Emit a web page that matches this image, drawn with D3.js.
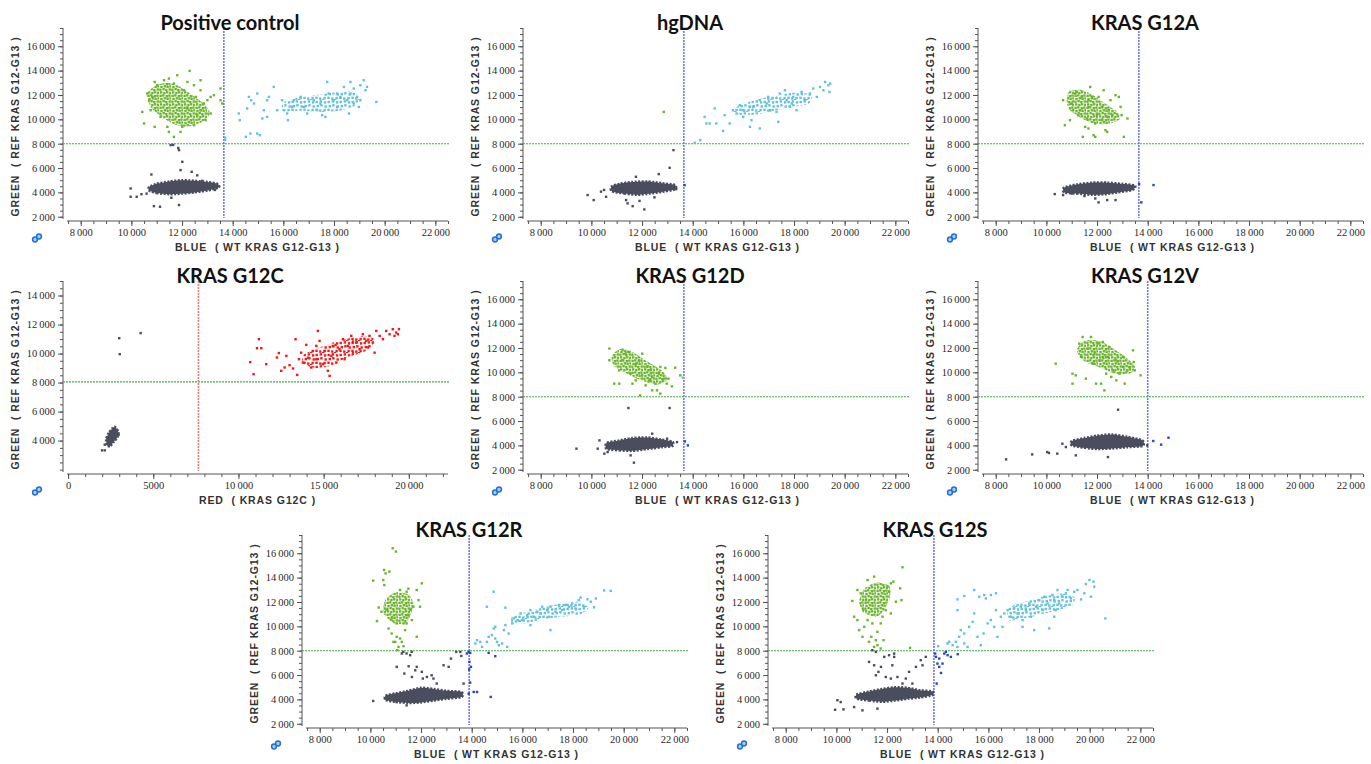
<!DOCTYPE html>
<html>
<head>
<meta charset="utf-8">
<script src="https://cdn.jsdelivr.net/npm/d3@7"></script>
<style>
body{margin:0;background:#fff;}
svg{display:block;}
.tick text{font-family:"Liberation Serif","DejaVu Serif",serif;font-size:10.5px;fill:#2a2a2a;}
.ptitle{font-family:Lato,"Open Sans",sans-serif;font-weight:bold;font-size:20px;fill:#111;}
.atitle{font-family:"Liberation Sans",Arial,sans-serif;font-weight:bold;font-size:10.5px;letter-spacing:0.9px;fill:#333;white-space:pre;}
</style>
</head>
<body>
<svg id="chart" width="1371" height="764"></svg>
<script>
// ---- data (fluorescence amplitudes) ----

// Positive control
var pcGrayCore = [[10700,4150],[11000,3950],[11500,3850],[12000,3900],[12500,4000],[13000,4150],[13450,4400],[13400,4700],[13000,4850],[12500,4950],[12000,5000],[11500,4900],[11000,4700],[10700,4450]];
var pcGray = [[9970,4320],[9970,3640],[10210,3640],[10400,3850],[10790,5470],[10890,2870],[11130,2820],[11880,2960],[11940,5830],[12010,6510],[12380,5690],[11580,3560],[11550,7880],[11650,7900],[11880,7470],[11850,7650],[12600,5400],[10600,3900],[13300,4200],[12800,4950]];
var pcGreenCore = [[10600,12000],[10900,12700],[11400,13000],[11900,12700],[12400,12000],[12900,11200],[13100,10500],[12800,9800],[12200,9400],[11700,9600],[11200,10200],[10800,10900]];
var pcGreen = [[10430,10610],[10500,9660],[10830,11840],[10920,13070],[11480,13350],[11810,13620],[12300,13980],[12210,13070],[12730,12390],[13130,11840],[13000,11570],[13260,11980],[13520,12530],[13520,11570],[13130,10480],[12930,9930],[11940,8970],[11480,8970],[11680,8560],[12010,9380],[12470,9520],[10920,9380],[10760,10750],[11150,10200],[12730,10750],[12210,10890],[11020,12800],[11290,13210],[11680,12940],[12080,12390],[12540,11840],[12860,11300],[11420,9380],[12600,10340],[10700,11570],[10630,12120],[12470,12800],[12730,13210],[13590,11300]];
var pcCyanCore = [[16000,10700],[16800,10700],[17500,10600],[18200,10700],[18800,11100],[19000,11800],[18700,12300],[18000,12200],[17300,12000],[16600,11800],[16000,11400]];
var pcCyan = [[13700,8500],[13700,8300],[14240,10480],[14280,9930],[14570,10890],[14730,11570],[14840,11300],[14970,12120],[14640,11840],[14520,8560],[14700,8830],[14970,8830],[15070,8700],[15230,10750],[15360,11570],[15430,11840],[15620,12660],[15170,10070],[15360,10200],[15760,10750],[15950,11570],[16020,10750],[16150,10480],[16180,9930],[16350,11020],[16410,11570],[16680,11840],[16810,11020],[16940,10480],[17200,11570],[17330,10750],[17460,11300],[17660,10200],[17730,13070],[17790,12120],[17990,11570],[18120,11020],[18250,11840],[18390,12660],[18520,11570],[18650,12120],[18650,13070],[18780,12530],[18910,11840],[18980,11020],[19040,12800],[19170,13210],[19240,12390],[19300,12660],[19670,11430],[19040,11570],[18780,11300],[18590,10480],[17530,10340],[18120,12120]];

// hgDNA
var hgGrayCore = [[10800,4100],[11300,3900],[11800,3800],[12300,3900],[12800,4050],[13300,4250],[13300,4600],[12800,4750],[12200,4900],[11600,4850],[11100,4700],[10800,4500]];
var hgGray = [[9850,3780],[10090,3370],[10380,4060],[10580,3640],[11630,2870],[12090,2600],[11760,5280],[12660,5500],[13090,6020],[13240,7470],[13350,4270],[12490,3590],[11370,3370],[10970,4460],[11430,3100],[10500,4200],[11900,3300]];
var hgBlue = [[13680,4600]];
var hgGreen = [[12860,10610]];
var hgCyanCore = [[15800,10400],[16500,10400],[17200,10700],[17900,11000],[18600,11300],[18700,12000],[18100,12200],[17400,12000],[16700,11700],[16000,11300],[15600,10800]];
var hgCyan = [[14080,8070],[14300,8290],[14470,10200],[14540,9660],[14670,9660],[14930,9660],[14870,10890],[15260,10340],[15200,9050],[15460,9660],[15590,10750],[15730,10480],[15860,11160],[15990,10200],[16260,9380],[16320,9930],[16390,11020],[16650,11570],[16920,11300],[17050,10750],[17310,10610],[17440,12120],[17640,12390],[17710,11570],[17910,11300],[17970,11840],[18300,12250],[18430,11570],[18630,12120],[18760,12530],[18900,11840],[19030,12660],[19160,12390],[19230,13070],[19360,12800],[19400,12250],[17380,9790],[16650,9250],[17840,11020],[18100,10750],[16980,11840],[16260,11020],[15990,10750],[19430,12940]];

// KRAS G12A
var g12aGrayCore = [[10700,4000],[11200,3900],[11800,3800],[12300,3850],[12800,4000],[13400,4200],[13500,4550],[13000,4700],[12400,4800],[11800,4800],[11200,4650],[10700,4400]];
var g12aGray = [[10330,3860],[10660,3780],[10860,4050],[12060,3180],[12400,3370],[12730,3370],[11930,3500],[11000,3900],[11500,3700]];
var g12aBlue = [[13660,4680],[14230,4600],[13750,3180]];
var g12aGreenCore = [[10800,11500],[10900,12300],[11400,12400],[11900,11900],[12400,11200],[12800,10600],[12900,10000],[12400,9600],[11800,9700],[11300,10200],[10900,10800]];
var g12aGreen = [[10660,11570],[10730,9520],[10930,9930],[11000,11300],[11130,12120],[11200,12250],[11330,10750],[11400,11840],[11530,9380],[11440,8560],[11660,9250],[11730,12660],[11800,11840],[11860,8700],[11930,8560],[12000,10340],[12060,11840],[12260,12390],[12200,11020],[12330,9110],[12400,8970],[12460,10750],[12530,11570],[12600,10340],[12730,11980],[12860,11840],[12930,11020],[12970,10340],[13060,8560],[13200,10070],[12400,10200],[11930,9660],[11600,10070],[11260,10340],[11060,10750],[11660,11570],[11660,11020],[12200,9930]];

// KRAS G12C (red channel on x)
var g12cGrayCore = [[2300,3650],[2500,3650],[2700,3950],[2900,4250],[2950,4600],[2750,4950],[2600,4850],[2400,4550],[2230,4100]];
var g12cGray = [[1990,3330],[2150,3330],[2150,3720],[2970,4410],[3000,11060],[3030,9960],[4260,11410]];
var g12cRedCore = [[13800,9300],[14600,9000],[15500,9200],[16300,9700],[17100,10000],[17800,10400],[17900,11100],[17200,11200],[16300,11000],[15400,10700],[14500,10300],[13800,9900]];
var g12cRed = [[10690,9410],[10890,8580],[11090,10370],[11200,10990],[11340,10370],[11630,9270],[12260,9730],[12370,10030],[12510,8810],[12710,9040],[12810,9840],[13000,9200],[13200,8970],[13350,10990],[13450,8530],[13550,9610],[13680,10060],[13780,9380],[13980,10600],[14080,9720],[14270,9040],[14370,10180],[14660,11560],[14570,9610],[14760,10870],[14960,9270],[15060,10180],[15250,8810],[15350,8460],[15450,9840],[15540,10530],[15740,9380],[15930,10300],[16130,10990],[16230,9610],[16420,10530],[16620,11220],[16720,10060],[16910,10760],[17110,10300],[17300,11330],[17500,10870],[17600,10420],[17690,11220],[17890,10760],[17990,10060],[18090,11560],[18290,11220],[18480,10990],[18670,11560],[18870,11330],[19060,11680],[19260,11450],[19360,11330],[19420,11680],[19160,11220],[16720,10830],[15700,10600],[14570,10530]];

// KRAS G12D
var g12dGrayCore = [[10600,3700],[11100,3600],[11600,3550],[12200,3700],[12800,3850],[13200,3950],[13200,4300],[12700,4500],[12200,4650],[11600,4600],[11100,4400],[10600,4200]];
var g12dGray = [[9410,3730],[10250,3730],[10320,4410],[10510,3320],[10640,3450],[11460,7070],[11680,2580],[11550,3180],[12400,4960],[12770,4410],[12990,4550],[13120,4270],[13380,4270],[13090,7070]];
var g12dBlue = [[13690,4330],[13810,4000]];
var g12dCyan = [[13610,9560]];
var g12dGreenCore = [[10800,11300],[11100,11900],[11600,11700],[12200,10900],[12800,10100],[13000,9400],[12600,9000],[12000,9300],[11400,9900],[10900,10500]];
var g12dGreen = [[10710,11950],[10710,10990],[10900,9070],[11100,9070],[11100,10160],[11230,11860],[11360,11530],[11490,11670],[11550,9890],[11620,9070],[11750,9340],[11880,10990],[11920,8110],[12010,9750],[12140,8930],[12200,10440],[12330,10160],[12400,9620],[12530,9070],[12590,8520],[12660,9890],[12720,10440],[12850,9480],[12920,10360],[12980,9070],[13040,9480],[13180,8850],[13310,10380],[13510,9750],[11750,10710],[11230,10990],[12400,8520],[12010,11530],[12270,9340],[12720,8250]];

// KRAS G12V
var g12vGrayCore = [[11000,4000],[11500,3800],[12000,3700],[12600,3750],[13200,3850],[13800,3950],[13800,4400],[13200,4700],[12600,4900],[12000,4800],[11500,4600],[11000,4350]];
var g12vGray = [[8410,2850],[9440,3260],[10030,3450],[10100,3380],[10430,3320],[10630,4140],[10770,3860],[11160,3180],[12430,3040],[12830,6930],[13980,4000],[13620,4140]];
var g12vBlue = [[14220,4360],[14530,4060],[14820,4630]];
var g12vGreenCore = [[11200,11800],[11500,12600],[12100,12600],[12600,12000],[13100,11300],[13500,10500],[13300,9900],[12700,9900],[12100,10400],[11500,10900]];
var g12vGreen = [[10370,10710],[11030,9890],[11030,9070],[11160,9750],[11300,12360],[11430,12900],[11560,9480],[11630,11950],[11760,12900],[11900,11530],[11960,9070],[12100,10990],[12160,9070],[12230,12490],[12290,8520],[12360,9890],[12430,11260],[12490,12080],[12630,10160],[12760,10990],[12890,9890],[13030,11260],[13090,9070],[13190,10160],[13290,10440],[13420,11810],[13450,10850],[13490,10160],[13720,9750],[11370,11260],[11830,10710],[12760,9340],[12030,12360],[13030,10440],[12560,9620],[12230,11260]];

// KRAS G12R
var g12rGrayCore = [[10600,3950],[11000,3800],[11500,3700],[12000,3750],[12500,3900],[13000,4050],[13600,4200],[13600,4600],[13000,4700],[12500,4850],[12000,4950],[11500,4700],[11000,4500],[10600,4300]];
var g12rGray = [[10110,3870],[10600,4060],[11240,7770],[11300,7900],[11430,7770],[11570,7630],[11630,7900],[11040,6670],[11340,6120],[11510,6720],[11640,5840],[11770,6390],[11830,6670],[12030,6260],[12070,5710],[12230,5840],[12420,5980],[12490,5710],[12620,5300],[12890,6800],[13090,6670],[13180,7350],[13390,7900],[13550,7900],[13590,7570],[13680,5300],[11040,3780],[11430,3510],[13020,4330]];
var g12rBlue = [[13810,7770],[13880,7900],[13940,7820],[13910,7080],[13970,6670],[13900,6450],[13940,5380],[13880,4470],[14080,4610],[14210,4610],[14670,7820],[14930,7550],[14750,4200]];
var g12rGreenCore = [[10500,11200],[10600,12200],[11000,12800],[11500,12600],[11700,11900],[11600,11000],[11400,10300],[11000,10200],[10700,10600]];
var g12rGreen = [[10110,13750],[10540,14630],[10600,14350],[10750,14490],[10880,16410],[11010,16140],[10510,13800],[10550,13390],[10260,10430],[10330,11540],[10720,9820],[10840,9410],[10910,8720],[11040,9140],[11110,8310],[11170,9000],[11240,8720],[11370,9690],[11430,10240],[11500,10920],[11570,11330],[11830,12980],[12030,13530],[11960,11610],[11830,9140],[11900,12150],[11700,11610],[11640,10510],[11040,10240],[11310,10240],[10840,10650],[10640,11330],[10440,11200],[11430,12840],[11170,12980],[11500,13090],[10980,8720],[11310,8370],[11060,8040]];
var g12rCyanCore = [[15600,10200],[16200,10300],[16900,10600],[17600,10800],[18300,11000],[18600,11500],[18300,12000],[17600,11900],[16900,11600],[16200,11200],[15600,10800]];
var g12rCyan = [[14140,8590],[14210,8860],[14340,8720],[14410,8310],[14600,8720],[14670,9140],[14800,9280],[14930,9000],[15000,8720],[15070,8450],[14870,9820],[14930,9960],[15200,8590],[15400,8310],[15270,9690],[15330,10100],[15460,9410],[15600,10240],[15660,10650],[15820,10510],[15930,11060],[15990,10510],[16190,10920],[16320,11330],[16450,10790],[16590,11200],[16720,11060],[16780,11610],[16980,11330],[17040,10790],[17110,11610],[17310,11200],[17440,11750],[17570,11330],[17710,11750],[17840,11610],[17970,11880],[18100,11470],[18230,12150],[18300,12360],[18440,11610],[18570,12220],[18700,12020],[18830,11560],[18900,12290],[19230,12950],[19490,12910],[14870,12840],[14600,11610],[15330,11530],[16320,10100],[17110,9690]];

// KRAS G12S
var g12sGrayCore = [[10800,4050],[11300,3900],[11800,3800],[12300,3900],[12800,4050],[13300,4150],[13800,4350],[13800,4650],[13300,4750],[12800,4950],[12300,5000],[11800,4850],[11300,4650],[10800,4400]];
var g12sGray = [[9950,3150],[10170,3780],[10280,3180],[10040,3930],[10700,3370],[11030,3100],[11620,3240],[11290,7080],[11490,6800],[11660,6260],[11560,5980],[11760,6670],[11890,7490],[12080,7630],[12210,6800],[12280,7490],[12280,7760],[11950,5840],[12150,5710],[12410,5840],[12610,5300],[12740,5710],[12870,6260],[13000,5300],[13140,6670],[13330,7220],[13400,6800],[13530,7490],[11560,7900],[11420,8040]];
var g12sBlue = [[13900,7760],[13930,7490],[13990,6940],[14060,6670],[14130,6170],[14190,6940],[14260,7760],[14320,7900],[14390,7630],[14520,7490],[14790,7710],[14060,7350],[13960,5300]];
var g12sGreenCore = [[10900,12000],[11100,13100],[11600,13600],[12100,13300],[12100,12300],[11900,11400],[11600,10800],[11100,11100]];
var g12sGreen = [[10630,12080],[10830,12980],[10960,12710],[10830,10510],[10900,9690],[11030,9140],[11100,9960],[11230,10510],[11290,8730],[11380,9140],[11490,8310],[11560,8860],[11620,8450],[11620,9550],[11750,10240],[11820,10790],[11860,8860],[11750,8180],[11950,11330],[12020,13250],[12150,13530],[12250,13670],[12350,12020],[12520,13120],[12570,12150],[12610,14850],[12150,11060],[12080,12840],[11490,14080],[11230,13800],[11160,12150],[11060,11330],[11420,10240],[10700,10790],[12910,8230]];
var g12sCyanCore = [[16800,10500],[17500,10700],[18100,11000],[18700,11300],[19300,11700],[19400,12400],[18800,12700],[18100,12400],[17400,12000],[16800,11500]];
var g12sCyan = [[14020,8370],[14390,8590],[14450,8730],[14590,8450],[14780,8310],[14720,8730],[15050,8590],[15180,8310],[14850,9140],[14910,9690],[15050,9410],[15240,9960],[15380,10370],[15440,11060],[14780,11330],[14780,12210],[15050,12490],[15440,12980],[15640,12430],[15840,12570],[15900,12290],[16100,12570],[16300,12710],[15570,9140],[15700,8450],[15810,9410],[15970,10240],[16100,10510],[16230,9960],[16300,11330],[16360,9140],[16490,10790],[16560,9960],[16630,11060],[16760,11330],[16890,10790],[17020,11470],[17150,11060],[17280,11610],[17350,10510],[17480,11330],[17610,11880],[17680,10790],[17810,9690],[17880,11610],[18010,12150],[18140,11330],[18210,12430],[18340,11880],[18400,9830],[18530,12570],[18600,12150],[18730,12980],[18800,11880],[18930,12430],[19060,12710],[19130,12980],[19260,12290],[19390,12840],[19520,12980],[19660,12210],[19790,12710],[19850,13470],[19990,13800],[20180,13250],[20050,12430],[20620,10650],[20150,13670],[18600,10790],[18660,11330],[17350,9960]];

// thresholds
var titles = ['Positive control','hgDNA','KRAS G12A','KRAS G12C','KRAS G12D','KRAS G12V','KRAS G12R','KRAS G12S'];
var vThresholds = [13650, 13650, 13650, 7650, 13650, 14000, 13900, 13850];
var hThresholds = [8000, 8000, 8000, 8050, 8000, 8000, 8000, 8000];

// ---- layout ----
var W = 385, H = 193;
var colors = {gray:'#4a4d5d', green:'#6cb42e', cyan:'#62c2db', blue:'#2e45bd', red:'#f21818'};
var blueAxis = {x:[7300,22500], y:[1650,17500], xTicks:d3.range(8000,22001,2000), xMinor:d3.range(7500,22501,500),
  yTicks:d3.range(2000,16001,2000), yMinor:d3.range(2000,17501,500), xName:'BLUE  ( WT KRAS G12-G13 )'};
var redAxis = {x:[-300,22300], y:[1700,15000], xTicks:d3.range(0,20001,5000), xMinor:d3.range(0,22001,1000),
  yTicks:d3.range(4000,14001,2000), yMinor:d3.range(2000,15001,500), xName:'RED  ( KRAS G12C )'};

var panels = [
  {left:63, top:28, ax:blueAxis, layers:[[pcGrayCore,'gray'],[pcGreenCore,'green'],[pcCyanCore,'cyan']], pts:[[pcGray,'gray'],[pcGreen,'green'],[pcCyan,'cyan']]},
  {left:523, top:28, ax:blueAxis, layers:[[hgGrayCore,'gray'],[hgCyanCore,'cyan']], pts:[[hgGray,'gray'],[hgBlue,'blue'],[hgGreen,'green'],[hgCyan,'cyan']]},
  {left:978, top:28, ax:blueAxis, layers:[[g12aGrayCore,'gray'],[g12aGreenCore,'green']], pts:[[g12aGray,'gray'],[g12aBlue,'blue'],[g12aGreen,'green']]},
  {left:63, top:281, ax:redAxis, layers:[[g12cGrayCore,'gray'],[g12cRedCore,'red']], pts:[[g12cGray,'gray'],[g12cRed,'red']], vColor:'#e8807a'},
  {left:523, top:281, ax:blueAxis, layers:[[g12dGrayCore,'gray'],[g12dGreenCore,'green']], pts:[[g12dGray,'gray'],[g12dBlue,'blue'],[g12dCyan,'cyan'],[g12dGreen,'green']]},
  {left:978, top:281, ax:blueAxis, layers:[[g12vGrayCore,'gray'],[g12vGreenCore,'green']], pts:[[g12vGray,'gray'],[g12vBlue,'blue'],[g12vGreen,'green']]},
  {left:302, top:535, ax:blueAxis, layers:[[g12rGrayCore,'gray'],[g12rGreenCore,'green'],[g12rCyanCore,'cyan']], pts:[[g12rGray,'gray'],[g12rGreen,'green'],[g12rCyan,'cyan'],[g12rBlue,'blue']]},
  {left:768, top:535, ax:blueAxis, layers:[[g12sGrayCore,'gray'],[g12sGreenCore,'green'],[g12sCyanCore,'cyan']], pts:[[g12sGray,'gray'],[g12sGreen,'green'],[g12sCyan,'cyan'],[g12sBlue,'blue']]}
];

var svg = d3.select('#chart');

// speckle textures for the crowded cluster cores (tile layout only)
var denseSpots = [[0.2,0.5],[3.4,0],[6.1,0.9],[9.5,0.3],[1,3.2],[4.2,3.8],[7,3.1],[10.1,3.6],[0.4,6.6],[3.1,6.2],[6.6,7],[9.2,6.4],[1.3,9.8],[4.6,9.1],[7.4,9.6],[10.3,9.2]];
var sparseSpots = [[0.5,0.8],[4.6,0.2],[8.9,1.2],[1.6,4.9],[5.2,4.1],[9.5,5.3],[0.3,8.6],[4.1,9.4],[8.4,8.8],[6.9,11.0]];
var defs = svg.append('defs');
function makePattern(id, color, spots){
  var pat = defs.append('pattern').attr('id', id).attr('patternUnits', 'userSpaceOnUse')
    .attr('width', 12).attr('height', 12);
  pat.selectAll('rect').data(spots).enter().append('rect')
    .attr('x', function(d){ return d[0]; }).attr('y', function(d){ return d[1]; })
    .attr('width', 2.4).attr('height', 2.4).attr('fill', color);
}
makePattern('tex-green', colors.green, denseSpots);
makePattern('tex-cyan', colors.cyan, sparseSpots);
makePattern('tex-red', colors.red, sparseSpots);

function fmt(d){
  return d3.format(',')(d).replace(',', '\u2009');
}

function drawPanel(p, i){
  var g = svg.append('g').attr('transform', 'translate(' + p.left + ',' + p.top + ')');
  var x = d3.scaleLinear().domain(p.ax.x).range([0, W]);
  var y = d3.scaleLinear().domain(p.ax.y).range([H, 0]);

  // minor ticks
  g.append('g').attr('transform', 'translate(0,' + H + ')')
    .call(d3.axisBottom(x).tickValues(p.ax.xMinor).tickSize(3).tickSizeOuter(0).tickFormat(''))
    .call(function(a){ a.select('.domain').remove(); a.selectAll('line').attr('stroke', '#555'); });
  g.append('g')
    .call(d3.axisLeft(y).tickValues(p.ax.yMinor).tickSize(3).tickSizeOuter(0).tickFormat(''))
    .call(function(a){ a.select('.domain').remove(); a.selectAll('line').attr('stroke', '#555'); });

  // major axes
  var xf = p.ax === redAxis ? function(d){ return d < 10000 ? String(d) : fmt(d); } : fmt;
  g.append('g').attr('transform', 'translate(0,' + H + ')')
    .call(d3.axisBottom(x).tickValues(p.ax.xTicks).tickSize(5).tickSizeOuter(0).tickPadding(3).tickFormat(xf))
    .call(function(a){
      a.select('.domain').attr('d', 'M4,0H' + W).attr('stroke', '#555');
      a.selectAll('line').attr('stroke', '#555');
    });
  g.append('g')
    .call(d3.axisLeft(y).tickValues(p.ax.yTicks).tickSize(5).tickSizeOuter(0).tickPadding(3).tickFormat(fmt))
    .call(function(a){
      a.select('.domain').attr('d', 'M0,0V' + (H - 2)).attr('stroke', '#555');
      a.selectAll('line').attr('stroke', '#555');
    });

  // axis titles
  g.append('text').attr('class', 'atitle')
    .attr('x', W / 2 + 2).attr('y', H + 30).attr('text-anchor', 'middle')
    .text(p.ax.xName);
  g.append('text').attr('class', 'atitle')
    .attr('transform', 'translate(-44,' + (H / 2 + 2) + ') rotate(-90)')
    .attr('text-anchor', 'middle')
    .text('GREEN  ( REF KRAS G12-G13 )');

  // thresholds
  g.append('line')
    .attr('x1', 0).attr('x2', W + 2)
    .attr('y1', y(hThresholds[i])).attr('y2', y(hThresholds[i]))
    .attr('stroke', '#46ab46').attr('stroke-width', 1.1).attr('stroke-dasharray', '2,1');
  g.append('line')
    .attr('x1', x(vThresholds[i])).attr('x2', x(vThresholds[i]))
    .attr('y1', 0).attr('y2', H - 3)
    .attr('stroke', p.vColor || '#7478f0').attr('stroke-width', 1.6).attr('stroke-dasharray', '2,1');

  // crowded cluster cores
  var core = d3.line().x(function(d){ return x(d[0]); }).y(function(d){ return y(d[1]); })
    .curve(d3.curveCardinalClosed.tension(0.3));
  p.layers.forEach(function(l){
    var path = g.append('path').attr('d', core(l[0]));
    if (l[1] === 'gray') {
      path.attr('fill', colors.gray).attr('stroke', colors.gray)
        .attr('stroke-width', 2.5).attr('stroke-dasharray', '2,1.5');
    } else {
      path.attr('fill', 'url(#tex-' + l[1] + ')').attr('stroke', 'none');
    }
  });

  // droplets
  p.pts.forEach(function(s){
    g.append('g').selectAll('rect').data(s[0]).enter().append('rect')
      .attr('x', function(d){ return x(d[0]) - 1.2; })
      .attr('y', function(d){ return y(d[1]) - 1.2; })
      .attr('width', 2.4).attr('height', 2.4)
      .attr('fill', colors[s[1]]);
  });

  // title
  g.append('text').attr('class', 'ptitle')
    .attr('x', 167).attr('y', 2).attr('text-anchor', 'middle')
    .text(titles[i]);

  // little link icon
  var ic = g.append('g').attr('transform', 'translate(-26,' + (H + 17) + ')');
  ic.append('circle').attr('cx', -2).attr('cy', 1.5).attr('r', 2.4);
  ic.append('circle').attr('cx', 2).attr('cy', -1.5).attr('r', 2.4);
  ic.selectAll('circle').attr('fill', '#a8d0f5').attr('stroke', '#1f6fd6').attr('stroke-width', 1.5);
}

panels.forEach(drawPanel);
</script>
</body>
</html>
